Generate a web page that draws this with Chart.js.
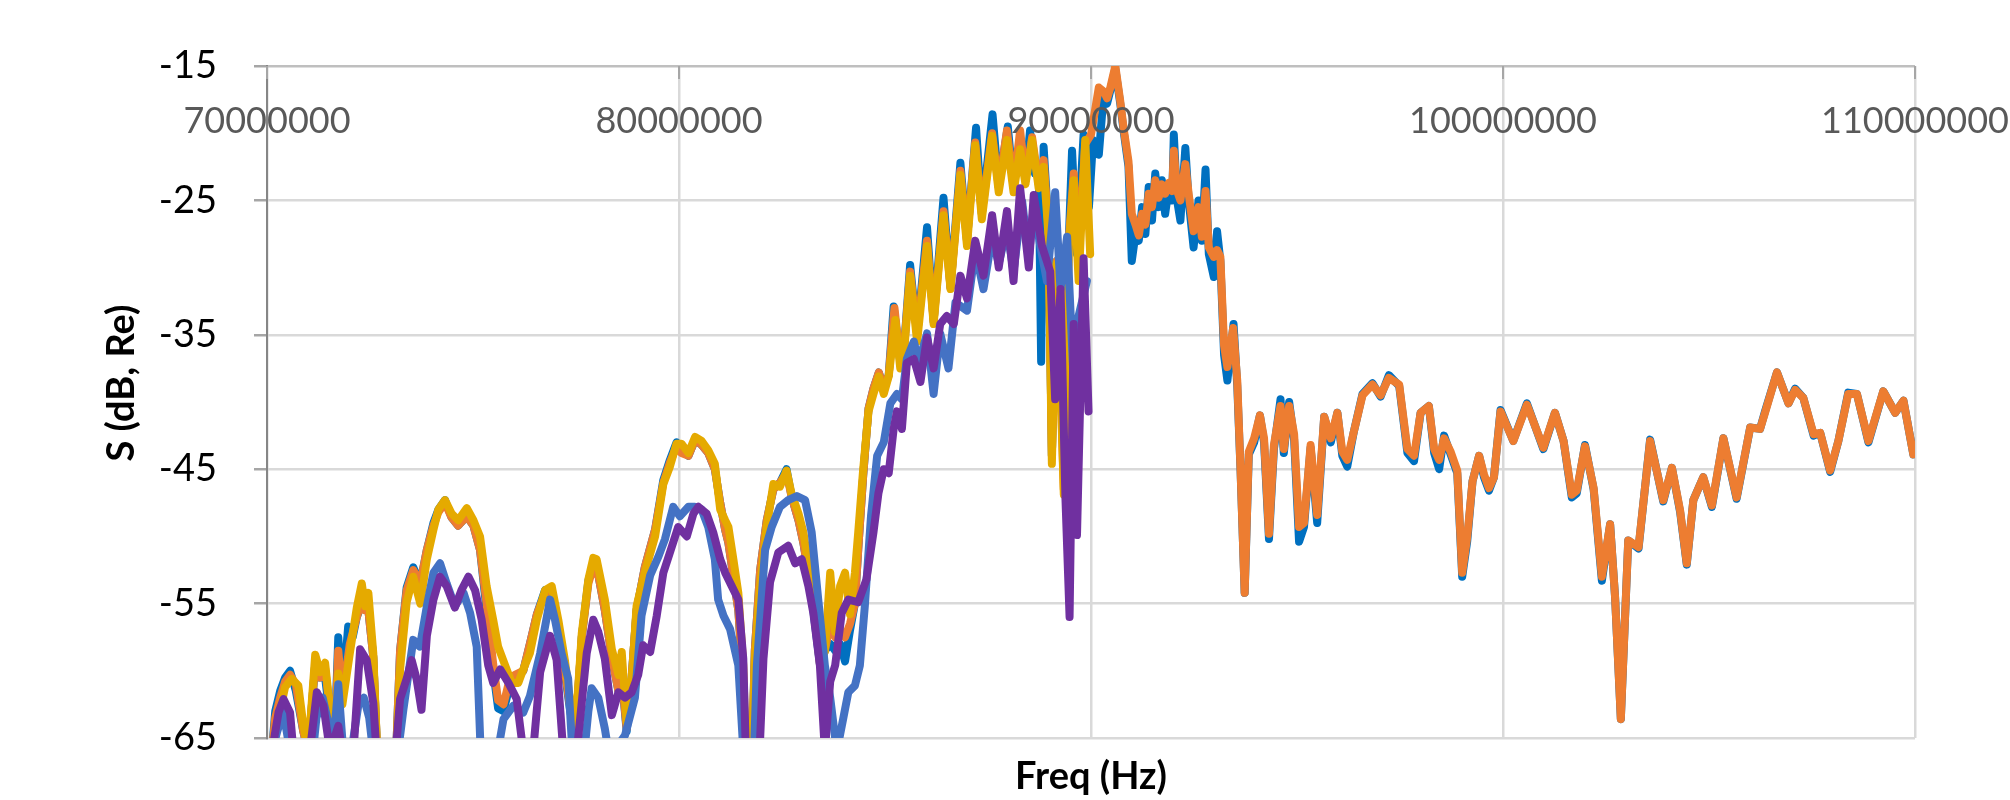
<!DOCTYPE html>
<html>
<head>
<meta charset="utf-8">
<script src="https://cdn.jsdelivr.net/npm/chart.js@4.4.1/dist/chart.umd.min.js"></script>
<style>
  html, body { margin: 0; padding: 0; background: #fff; }
  canvas { display: block; }
</style>
</head>
<body>
<canvas id="sChart" width="2010" height="800"></canvas>
<script>
// Axis settings
const freqMin = 70000000;
const freqMax = 110000000;
const freqStep = 10000000;
const sMin = -65;
const sMax = -15;
const sStep = 10;
const xTitle = 'Freq (Hz)';
const yTitle = 'S (dB, Re)';

// Series: frequency in MHz, S in dB (values below -65 run off the plot)
const goldFreq = [
  70.12, 70.20, 70.32, 70.44, 70.60, 70.76, 70.88, 71.00, 71.17, 71.29,
  71.41, 71.53, 71.63, 71.73, 71.83, 72.01, 72.18, 72.30, 72.38, 72.46,
  72.58, 72.70, 73.11, 73.23, 73.39, 73.55, 73.72, 73.88, 74.04, 74.16,
  74.32, 74.48, 74.64, 74.85, 75.01, 75.17, 75.33, 75.49, 75.61, 75.78,
  75.94, 76.10, 76.22, 76.38, 76.55, 76.75, 76.91, 77.07, 77.23, 77.35,
  77.48, 77.64, 77.80, 77.92, 78.00, 78.20, 78.37, 78.53, 78.61, 78.73,
  78.85, 78.97, 79.17, 79.42, 79.62, 79.78, 79.94, 80.06, 80.23, 80.39,
  80.55, 80.71, 80.87, 81.00, 81.12, 81.20, 81.32, 81.44, 81.56, 81.64,
  81.76, 81.84, 81.97, 82.13, 82.29, 82.45, 82.61, 82.73, 82.90, 83.02,
  83.18, 83.30, 83.42, 83.54, 83.67, 83.79, 83.91, 84.03, 84.15, 84.27,
  84.35, 84.47, 84.60, 84.72, 84.85, 84.97, 85.09, 85.25, 85.37, 85.45,
  85.61, 85.78, 86.02, 86.18, 86.42, 86.59, 86.83, 86.99, 87.19, 87.35,
  87.60, 87.76, 87.96, 88.12, 88.28, 88.41, 88.57, 88.73, 88.85, 88.97,
  89.05, 89.17, 89.34, 89.46, 89.58, 89.70, 89.86, 89.98
];
const goldS = [
  -66, -64.5, -62.9, -61.2, -60.6, -61.1, -64.0, -66, -58.8, -60.1,
  -59.4, -62.9, -66, -60.2, -62.5, -58.7, -55.3, -53.5, -55.2, -54.2,
  -58.7, -68, -68, -59.9, -54.9, -53.0, -55.0, -51.7, -49.5, -48.0,
  -47.3, -48.3, -48.8, -47.9, -48.8, -50.0, -53.7, -56.2, -58.2, -59.6,
  -60.9, -60.9, -59.9, -58.7, -56.2, -54.0, -53.7, -56.2, -59.2, -62.1,
  -64.6, -57.2, -53.2, -51.6, -51.7, -54.7, -58.4, -60.3, -58.6, -63.8,
  -60.8, -55.2, -52.7, -50.0, -46.1, -44.8, -43.1, -43.1, -43.8, -42.6,
  -42.9, -43.6, -44.6, -48.0, -48.8, -49.3, -51.7, -54.2, -59.6, -68,
  -68, -59.1, -53.7, -49.3, -46.1, -46.3, -45.1, -46.8, -48.3, -49.7,
  -52.9, -55.2, -59.1, -58.6, -52.7, -57.1, -53.7, -52.7, -55.8, -52.7,
  -49.7, -45.0, -40.7, -39.4, -38.1, -39.4, -38.1, -33.9, -37.5, -36.8,
  -30.6, -35.5, -28.4, -34.2, -26.1, -31.6, -23.1, -28.4, -20.9, -26.4,
  -20.2, -24.4, -20.5, -24.4, -21.2, -23.8, -20.5, -24.1, -22.5, -27.7,
  -44.6, -29.7, -46.9, -28.4, -23.5, -31.0, -20.5, -29.0
];

const orangeFreq = [
  70.12, 70.20, 70.32, 70.44, 70.56, 70.70, 70.88, 71.00, 71.17, 71.29,
  71.41, 71.53, 71.63, 71.73, 71.83, 72.01, 72.18, 72.30, 72.38, 72.46,
  72.58, 72.70, 73.11, 73.23, 73.39, 73.55, 73.72, 73.88, 74.04, 74.16,
  74.32, 74.48, 74.64, 74.85, 75.01, 75.17, 75.33, 75.49, 75.61, 75.74,
  75.86, 76.02, 76.22, 76.38, 76.55, 76.75, 76.91, 77.07, 77.23, 77.35,
  77.48, 77.64, 77.80, 77.92, 78.05, 78.20, 78.37, 78.53, 78.61, 78.73,
  78.85, 78.97, 79.17, 79.42, 79.62, 79.78, 79.94, 80.06, 80.23, 80.39,
  80.55, 80.71, 80.87, 81.00, 81.12, 81.20, 81.32, 81.44, 81.56, 81.64,
  81.76, 81.84, 81.97, 82.13, 82.29, 82.45, 82.61, 82.73, 82.90, 83.02,
  83.18, 83.30, 83.42, 83.54, 83.67, 83.79, 83.91, 84.03, 84.15, 84.27,
  84.35, 84.47, 84.60, 84.72, 84.85, 84.97, 85.09, 85.23, 85.37, 85.45,
  85.61, 85.78, 86.02, 86.18, 86.42, 86.59, 86.83, 86.99, 87.19, 87.35,
  87.60, 87.76, 87.96, 88.12, 88.28, 88.41, 88.57, 88.73, 88.85, 88.97,
  89.05, 89.17, 89.34, 89.46, 89.58, 89.70, 89.86, 90.00, 90.19, 90.31,
  90.39, 90.47, 90.59, 90.71, 90.79, 90.91, 90.99, 91.08, 91.16, 91.24,
  91.32, 91.40, 91.48, 91.56, 91.64, 91.72, 91.80, 91.89, 91.97, 92.01,
  92.09, 92.17, 92.29, 92.37, 92.49, 92.61, 92.69, 92.78, 92.86, 92.98,
  93.06, 93.14, 93.23, 93.31, 93.45, 93.55, 93.63, 93.73, 93.83, 93.96,
  94.10, 94.20, 94.32, 94.44, 94.60, 94.68, 94.81, 94.93, 95.05, 95.17,
  95.33, 95.49, 95.66, 95.82, 95.98, 96.10, 96.22, 96.38, 96.59, 96.83,
  97.03, 97.23, 97.48, 97.68, 97.84, 98.00, 98.20, 98.33, 98.45, 98.57,
  98.73, 98.89, 99.01, 99.13, 99.26, 99.42, 99.54, 99.66, 99.78, 99.94,
  100.25, 100.58, 100.98, 101.26, 101.47, 101.67, 101.79, 101.99, 102.20, 102.40,
  102.60, 102.72, 102.86, 103.04, 103.29, 103.57, 103.89, 104.10, 104.30, 104.46,
  104.62, 104.86, 105.07, 105.35, 105.67, 106.00, 106.24, 106.36, 106.65, 106.93,
  107.09, 107.29, 107.54, 107.70, 107.94, 108.14, 108.38, 108.59, 108.87, 109.23,
  109.52, 109.72, 109.96
];
const orangeS = [
  -66, -63.5, -62.0, -60.8, -60.3, -61.0, -64.5, -66, -59.5, -60.5,
  -59.8, -63.0, -66, -58.5, -62.0, -58.0, -56.0, -54.8, -55.5, -55.5,
  -59.0, -68, -68, -58.5, -54.0, -52.5, -53.5, -51.0, -49.2, -48.2,
  -47.5, -48.6, -49.2, -48.5, -49.2, -51.0, -55.0, -59.5, -62.2, -62.5,
  -61.0, -60.3, -60.0, -58.0, -55.8, -54.2, -54.5, -57.0, -60.0, -62.5,
  -64.8, -57.5, -53.5, -52.3, -53.0, -55.5, -59.0, -61.5, -60.5, -64.3,
  -60.5, -55.5, -52.3, -49.5, -46.0, -44.5, -43.3, -43.8, -44.0, -42.8,
  -43.2, -43.8, -45.0, -47.5, -49.5, -50.5, -53.0, -55.5, -61.0, -68,
  -68, -58.5, -52.5, -48.8, -46.5, -46.0, -45.3, -47.0, -48.8, -50.5,
  -53.5, -56.0, -59.5, -58.5, -56.5, -57.5, -57.0, -57.5, -56.5, -55.0,
  -51.0, -45.5, -40.5, -39.0, -37.8, -39.0, -38.0, -33.0, -37.0, -36.5,
  -30.3, -35.0, -28.0, -34.0, -25.8, -31.5, -22.8, -28.0, -20.7, -26.0,
  -20.0, -24.0, -19.8, -24.0, -19.8, -23.5, -20.3, -23.8, -22.0, -27.0,
  -44.0, -29.5, -46.5, -28.0, -23.0, -29.0, -20.8, -20.1, -16.6, -16.9,
  -17.4, -16.6, -15.0, -17.6, -19.6, -22.1, -26.0, -26.8, -27.6, -26.0,
  -26.8, -24.5, -25.5, -23.5, -24.8, -23.8, -24.5, -23.7, -24.3, -21.3,
  -24.3, -25.0, -22.3, -24.5, -27.3, -25.5, -27.7, -24.3, -28.5, -29.2,
  -28.7, -29.2, -35.8, -37.4, -34.5, -38.4, -45.1, -54.2, -43.7, -42.7,
  -41.0, -42.7, -49.8, -43.2, -40.3, -43.5, -40.3, -42.4, -49.3, -49.0,
  -43.2, -48.4, -41.1, -42.7, -40.8, -43.7, -44.3, -42.2, -39.5, -38.7,
  -39.5, -38.2, -38.7, -43.5, -44.0, -40.8, -40.3, -43.5, -44.3, -42.7,
  -43.7, -45.1, -52.7, -50.1, -45.9, -44.0, -45.4, -46.4, -45.6, -40.7,
  -42.9, -40.2, -43.4, -40.8, -42.9, -46.9, -46.6, -43.3, -46.4, -53.0,
  -49.1, -54.5, -63.6, -50.3, -50.8, -42.9, -47.3, -44.9, -48.1, -52.0,
  -47.3, -45.6, -47.7, -42.7, -47.1, -41.9, -42.0, -40.8, -37.8, -40.1,
  -39.1, -39.7, -42.4, -42.3, -45.1, -42.9, -39.4, -39.4, -42.9, -39.2,
  -40.8, -39.9, -43.9
];

const darkBlueFreq = [
  70.12, 70.20, 70.32, 70.44, 70.56, 70.70, 70.88, 71.00, 71.17, 71.29,
  71.41, 71.53, 71.63, 71.73, 71.83, 71.97, 72.08, 72.18, 72.30, 72.46,
  72.58, 72.70, 73.11, 73.23, 73.39, 73.55, 73.72, 73.88, 74.04, 74.16,
  74.32, 74.48, 74.64, 74.85, 75.01, 75.17, 75.33, 75.49, 75.61, 75.74,
  75.86, 76.02, 76.22, 76.38, 76.55, 76.75, 76.91, 77.07, 77.23, 77.35,
  77.48, 77.64, 77.80, 77.92, 78.05, 78.20, 78.37, 78.53, 78.61, 78.73,
  78.85, 78.97, 79.17, 79.42, 79.62, 79.78, 79.94, 80.06, 80.23, 80.39,
  80.55, 80.71, 80.87, 81.00, 81.12, 81.20, 81.32, 81.44, 81.56, 81.64,
  81.76, 81.84, 81.97, 82.13, 82.29, 82.45, 82.61, 82.73, 82.90, 83.02,
  83.18, 83.30, 83.42, 83.54, 83.67, 83.79, 83.91, 84.03, 84.15, 84.27,
  84.35, 84.47, 84.60, 84.72, 84.85, 84.97, 85.09, 85.21, 85.37, 85.45,
  85.61, 85.78, 86.02, 86.18, 86.42, 86.59, 86.83, 86.99, 87.21, 87.35,
  87.61, 87.76, 87.98, 88.12, 88.28, 88.41, 88.52, 88.64, 88.73, 88.79,
  88.85, 88.97, 89.05, 89.17, 89.34, 89.46, 89.54, 89.66, 89.82, 89.95,
  90.05, 90.19, 90.31, 90.39, 90.47, 90.59, 90.71, 90.79, 90.91, 90.99,
  91.08, 91.16, 91.24, 91.32, 91.40, 91.48, 91.56, 91.64, 91.72, 91.80,
  91.89, 91.97, 92.01, 92.09, 92.17, 92.29, 92.37, 92.49, 92.61, 92.69,
  92.78, 92.86, 92.98, 93.06, 93.14, 93.23, 93.31, 93.46, 93.55, 93.63,
  93.73, 93.83, 93.96, 94.10, 94.20, 94.32, 94.44, 94.60, 94.68, 94.81,
  94.93, 95.05, 95.17, 95.33, 95.49, 95.66, 95.82, 95.98, 96.10, 96.22,
  96.38, 96.59, 96.83, 97.03, 97.23, 97.48, 97.68, 97.84, 98.00, 98.20,
  98.33, 98.45, 98.57, 98.73, 98.89, 99.01, 99.13, 99.26, 99.42, 99.54,
  99.66, 99.78, 99.94, 100.25, 100.58, 100.98, 101.26, 101.47, 101.67, 101.79,
  101.99, 102.20, 102.40, 102.60, 102.72, 102.86, 103.04, 103.29, 103.57, 103.89,
  104.10, 104.30, 104.46, 104.62, 104.86, 105.07, 105.35, 105.67, 106.00, 106.24,
  106.36, 106.65, 106.93, 107.09, 107.29, 107.54, 107.70, 107.94, 108.14, 108.38,
  108.59, 108.87, 109.23, 109.52, 109.72, 109.96
];
const darkBlueS = [
  -66, -63.0, -61.5, -60.5, -60.0, -61.5, -64.5, -66, -59.5, -60.5,
  -60.5, -63.5, -66, -57.5, -62.0, -56.7, -57.5, -56.0, -55.0, -55.5,
  -59.0, -68, -68, -58.5, -53.8, -52.3, -53.5, -51.0, -49.0, -48.0,
  -47.3, -48.6, -49.2, -48.5, -49.2, -51.0, -55.5, -60.0, -62.8, -63.0,
  -61.5, -60.5, -60.0, -58.0, -55.8, -54.0, -54.5, -57.0, -60.2, -62.8,
  -65.0, -57.5, -53.3, -52.0, -53.0, -55.5, -59.0, -61.5, -60.5, -64.5,
  -60.5, -55.5, -52.3, -49.5, -45.8, -44.3, -43.0, -43.5, -44.0, -42.8,
  -43.2, -43.8, -45.0, -47.5, -49.5, -50.5, -53.0, -55.5, -61.0, -68,
  -68, -58.5, -52.5, -48.8, -46.5, -46.0, -45.0, -47.0, -48.8, -50.5,
  -53.5, -56.5, -59.5, -58.5, -58.0, -58.5, -58.0, -59.3, -57.0, -55.0,
  -51.0, -45.5, -40.5, -39.0, -37.8, -39.0, -38.0, -32.9, -37.0, -36.5,
  -29.8, -35.0, -27.0, -34.0, -24.8, -31.5, -22.2, -28.0, -19.6, -26.0,
  -18.6, -24.0, -19.5, -24.0, -20.5, -23.5, -19.8, -23.0, -22.5, -37.0,
  -21.0, -27.0, -44.0, -29.5, -45.0, -28.0, -21.3, -29.0, -20.1, -25.5,
  -20.5, -21.6, -17.0, -17.8, -16.8, -15.2, -17.8, -19.8, -22.5, -29.5,
  -27.5, -28.0, -25.5, -27.5, -24.0, -26.5, -23.0, -25.5, -23.5, -26.0,
  -24.0, -25.0, -20.1, -25.0, -26.5, -21.1, -25.0, -28.5, -25.0, -28.0,
  -22.7, -29.0, -30.7, -27.3, -29.5, -36.5, -38.4, -34.2, -38.8, -45.1,
  -54.2, -43.9, -43.0, -41.0, -43.0, -50.2, -43.5, -39.8, -43.8, -40.0,
  -42.8, -50.4, -49.3, -43.4, -49.0, -41.1, -43.0, -40.8, -44.0, -44.8,
  -42.2, -39.4, -38.6, -39.6, -38.0, -38.8, -43.8, -44.4, -40.8, -40.3,
  -43.8, -45.0, -42.5, -43.9, -45.3, -53.0, -50.4, -45.9, -44.0, -45.6,
  -46.6, -45.6, -40.6, -42.9, -40.1, -43.5, -40.8, -42.9, -47.1, -46.8,
  -43.2, -46.5, -53.3, -49.1, -54.5, -63.6, -50.3, -50.9, -42.8, -47.4,
  -44.9, -48.2, -52.1, -47.3, -45.6, -47.8, -42.7, -47.2, -41.9, -42.0,
  -40.7, -37.8, -40.1, -39.0, -39.7, -42.5, -42.3, -45.2, -42.9, -39.3,
  -39.4, -43.0, -39.2, -40.8, -39.9, -43.9
];

const midBlueFreq = [
  70.12, 70.25, 70.40, 70.56, 70.75, 71.05, 71.20, 71.35, 71.50, 71.60,
  71.73, 71.85, 72.05, 72.22, 72.35, 72.48, 72.65, 73.10, 73.31, 73.55,
  73.71, 73.88, 74.04, 74.20, 74.36, 74.56, 74.77, 74.93, 75.09, 75.21,
  75.49, 75.74, 75.98, 76.22, 76.38, 76.63, 76.87, 76.99, 77.15, 77.31,
  77.45, 77.64, 77.80, 77.88, 78.04, 78.20, 78.29, 78.53, 78.69, 78.93,
  79.09, 79.30, 79.50, 79.66, 79.86, 80.02, 80.23, 80.39, 80.55, 80.71,
  80.87, 80.95, 81.08, 81.24, 81.44, 81.60, 81.80, 81.89, 82.09, 82.25,
  82.45, 82.65, 82.86, 83.06, 83.22, 83.38, 83.54, 83.67, 83.83, 83.99,
  84.11, 84.27, 84.39, 84.51, 84.66, 84.81, 84.97, 85.13, 85.29, 85.41,
  85.53, 85.70, 85.82, 86.02, 86.18, 86.34, 86.54, 86.71, 86.99, 87.19,
  87.39, 87.60, 87.76, 87.96, 88.12, 88.33, 88.49, 88.61, 88.77, 88.93,
  89.13, 89.26, 89.42, 89.58, 89.70, 89.90
];
const midBlueS = [
  -66, -64.5, -63.1, -66, -68, -68, -63.5, -62.0, -64.0, -66,
  -61.0, -66, -66, -62.5, -62.0, -63.5, -68, -68, -62.9, -57.7,
  -58.2, -55.2, -52.7, -52.0, -53.5, -55.2, -54.2, -55.7, -58.2, -68,
  -68, -63.6, -62.6, -63.1, -61.9, -58.7, -54.7, -56.2, -58.7, -60.6,
  -68, -68, -63.0, -61.3, -62.0, -64.3, -66, -65.5, -64.8, -62.0,
  -55.9, -52.9, -51.5, -50.2, -47.8, -48.5, -47.8, -47.8, -48.0, -49.3,
  -51.7, -54.7, -55.9, -56.9, -59.6, -68, -68, -59.6, -51.0, -49.3,
  -47.8, -47.3, -47.0, -47.3, -49.7, -54.7, -59.6, -62.0, -66, -63.5,
  -61.6, -61.1, -59.6, -55.2, -48.5, -44.0, -43.0, -40.1, -39.4, -39.8,
  -36.8, -35.5, -37.1, -34.9, -39.4, -34.9, -37.5, -32.6, -33.2, -28.7,
  -31.6, -27.7, -29.7, -27.1, -30.3, -25.1, -29.3, -25.4, -28.4, -31.0,
  -24.4, -31.6, -27.7, -38.5, -33.6, -31.0
];

const purpleFreq = [
  70.12, 70.28, 70.40, 70.56, 70.64, 71.04, 71.21, 71.37, 71.53, 71.73,
  71.83, 72.10, 72.26, 72.42, 72.58, 72.70, 73.07, 73.23, 73.39, 73.51,
  73.63, 73.75, 73.88, 74.04, 74.20, 74.36, 74.56, 74.72, 74.89, 75.05,
  75.21, 75.37, 75.49, 75.66, 75.86, 76.06, 76.22, 76.46, 76.63, 76.87,
  77.03, 77.19, 77.52, 77.76, 77.92, 78.04, 78.20, 78.37, 78.53, 78.69,
  78.85, 79.01, 79.13, 79.30, 79.46, 79.62, 79.78, 79.98, 80.19, 80.35,
  80.47, 80.67, 80.83, 81.00, 81.12, 81.28, 81.44, 81.56, 81.64, 81.93,
  82.05, 82.21, 82.41, 82.65, 82.82, 82.98, 83.14, 83.26, 83.42, 83.54,
  83.67, 83.79, 83.95, 84.11, 84.35, 84.55, 84.72, 84.84, 84.97, 85.09,
  85.21, 85.29, 85.41, 85.53, 85.70, 85.86, 86.02, 86.18, 86.34, 86.50,
  86.67, 86.83, 86.99, 87.19, 87.39, 87.60, 87.76, 87.96, 88.12, 88.28,
  88.49, 88.61, 88.81, 89.01, 89.13, 89.26, 89.38, 89.48, 89.58, 89.66,
  89.82, 89.94
];
const purpleS = [
  -66, -63.1, -62.1, -63.1, -66, -66, -61.6, -62.6, -66, -64.1,
  -66, -66, -58.4, -59.2, -62.4, -68, -68, -62.1, -60.6, -59.2,
  -60.6, -62.9, -57.4, -54.7, -53.0, -53.7, -55.3, -54.0, -53.0, -54.0,
  -56.2, -59.6, -60.9, -59.9, -60.9, -62.1, -66, -66, -60.1, -57.4,
  -59.2, -66, -66, -58.7, -56.2, -57.1, -59.1, -63.3, -61.6, -62.0,
  -61.6, -60.3, -58.1, -58.6, -55.9, -52.7, -51.2, -49.3, -50.0, -48.3,
  -47.8, -48.3, -49.7, -51.7, -52.7, -53.7, -54.7, -59.1, -68, -68,
  -59.1, -53.4, -51.2, -50.7, -52.0, -51.7, -53.7, -55.7, -59.6, -66,
  -60.8, -59.6, -55.7, -54.7, -54.9, -53.2, -49.7, -46.8, -45.0, -45.3,
  -42.0, -40.7, -42.0, -37.1, -36.8, -38.5, -35.2, -37.5, -34.2, -33.6,
  -34.2, -30.6, -32.3, -28.0, -30.6, -26.1, -30.0, -25.8, -31.0, -24.1,
  -30.0, -24.6, -28.4, -30.3, -39.8, -31.6, -47.2, -56.0, -34.2, -49.9,
  -29.3, -40.7
];

const byId = (id) => document.getElementById(id);
const toPoints = (freqs, vals) => freqs.map((f, i) => ({ x: f * 1e6, y: vals[i] }));
const series = (label, freqs, vals, color) => ({
  label,
  data: toPoints(freqs, vals),
  borderColor: color,
  backgroundColor: color,
  borderWidth: 8,
  pointRadius: 0,
  tension: 0,
  fill: false,
  borderJoinStyle: 'round',
  borderCapStyle: 'round'
});

// axis titles, tick labels on the top axis, inner tick marks
const axisDecor = {
  id: 'axisDecor',
  afterDraw(chart) {
    const { ctx, chartArea: area, scales: { x } } = chart;
    ctx.save();
    ctx.strokeStyle = '#a6a6a6';
    ctx.lineWidth = 2;
    x.ticks.forEach(t => {
      const px = x.getPixelForValue(t.value);
      ctx.beginPath();
      ctx.moveTo(px, area.top);
      ctx.lineTo(px, area.top + 13);
      ctx.stroke();
    });
    ctx.fillStyle = '#595959';
    ctx.font = '36px Lato';
    ctx.textAlign = 'center';
    ctx.textBaseline = 'middle';
    x.ticks.forEach(t => ctx.fillText(String(t.value), x.getPixelForValue(t.value), 121));

    ctx.fillStyle = '#000';
    ctx.font = 'bold 38px Lato';
    ctx.fillText(xTitle, (area.left + area.right) / 2, 777);
    ctx.translate(122, 383);
    ctx.rotate(-Math.PI / 2);
    ctx.fillText(yTitle, 0, 0);
    ctx.restore();
  }
};

new Chart(byId('sChart').getContext('2d'), {
  type: 'line',
  data: {
    datasets: [
      series('Purple', purpleFreq, purpleS, '#7030A0'),
      series('Blue', midBlueFreq, midBlueS, '#4472C4'),
      series('Gold', goldFreq, goldS, '#E5AA00'),
      series('Orange', orangeFreq, orangeS, '#ED7D31'),
      series('Dark blue', darkBlueFreq, darkBlueS, '#0070C0')
    ]
  },
  options: {
    responsive: false,
    animation: false,
    layout: { padding: { top: 66, right: 95, left: 0, bottom: 0 } },
    plugins: { legend: { display: false }, tooltip: { enabled: false } },
    scales: {
      x: {
        type: 'linear', min: freqMin, max: freqMax,
        ticks: { stepSize: freqStep, display: false },
        grid: { color: '#d9d9d9', lineWidth: 2.5, drawTicks: false },
        border: { display: false },
        afterFit: (s) => { s.height = 62; }
      },
      y: {
        type: 'linear', min: sMin, max: sMax,
        ticks: { stepSize: sStep, color: '#000', padding: 37, font: { family: 'Lato', size: 38 } },
        grid: {
          color: (c) => (c.tick && c.tick.value === sMax ? '#bfbfbf' : '#d9d9d9'),
          lineWidth: 2.5, tickLength: 13, tickColor: '#a6a6a6'
        },
        border: { color: '#868686', width: 2 },
        afterFit: (s) => { s.width = 267; }
      }
    }
  },
  plugins: [axisDecor]
});
</script>
</body>
</html>
